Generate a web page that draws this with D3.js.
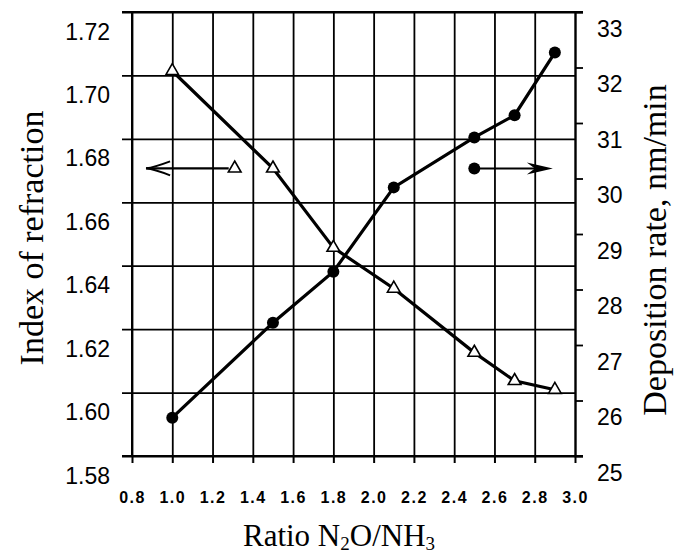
<!DOCTYPE html>
<html><head><meta charset="utf-8">
<script src="https://cdn.jsdelivr.net/npm/d3@7"></script>
<style>
html,body{margin:0;padding:0;background:#fff;}
svg{display:block;}
</style></head>
<body>
<svg id="chart" width="678" height="556"></svg>
<script>
// ---- data ----
const ratio = [1.0, 1.5, 1.8, 2.1, 2.5, 2.7, 2.9];
const refractiveIndex = [1.7014, 1.6707, 1.6457, 1.6328, 1.6126, 1.6037, 1.6009];
const depositionRate = [25.69, 27.40, 28.32, 29.84, 30.74, 31.14, 32.27];
const xTicks = [0.8, 1.0, 1.2, 1.4, 1.6, 1.8, 2.0, 2.2, 2.4, 2.6, 2.8, 3.0];
const leftTicks = [1.58, 1.60, 1.62, 1.64, 1.66, 1.68, 1.70, 1.72];
const rightTicks = [25, 26, 27, 28, 29, 30, 31, 32, 33];
// legend arrows: [marker x, arrow tip x, y value]
const indexArrow = [1.31, 0.87, 1.6707];
const rateArrow = [2.50, 2.89, 30.18];

const svg = d3.select("#chart");
const x = d3.scaleLinear().domain([0.8, 3.0]).range([132, 575]);
const yL = d3.scaleLinear().domain([1.58, 1.72]).range([456, 12]);
const yR = d3.scaleLinear().domain([25, 33]).range([456, 12]);

// vertical grid + x ticks
const gx = svg.append("g").attr("transform", "translate(0,456)")
  .call(d3.axisBottom(x).tickValues(xTicks).tickSize(7).tickFormat(d3.format(".1f")));
gx.select(".domain").remove();
gx.selectAll("line").attr("stroke", "#000").attr("stroke-width", 2);
gx.selectAll("text").attr("font-family", "Liberation Sans, Arial, sans-serif")
  .attr("font-size", 16).attr("font-weight", "bold").attr("letter-spacing", "1.5px")
  .attr("fill", "#000").attr("y", 0).attr("dy", 0).attr("transform", "translate(0,47)");

const gv = svg.append("g").attr("transform", "translate(0,456)")
  .call(d3.axisBottom(x).tickValues(xTicks).tickSize(-444).tickFormat(""));
gv.select(".domain").remove();
gv.selectAll("line").attr("stroke", "#000").attr("stroke-width", 1.8);

// horizontal grid (left ticks) extending outwards
const gl = svg.append("g").attr("transform", "translate(575,0)")
  .call(d3.axisLeft(yL).tickValues(leftTicks).tickSize(453).tickFormat(d3.format(".2f")));
gl.select(".domain").remove();
gl.selectAll("line").attr("stroke", "#000").attr("stroke-width", 1.8);
gl.selectAll("text").attr("font-family", "Liberation Sans, Arial, sans-serif")
  .attr("font-size", 23).attr("fill", "#000")
  .attr("x", -465).attr("dy", 0).attr("y", 27);

// right axis
const gr = svg.append("g").attr("transform", "translate(575,0)")
  .call(d3.axisRight(yR).tickValues(rightTicks).tickSize(8).tickFormat(d3.format("d")));
gr.select(".domain").attr("stroke", "#000").attr("stroke-width", 2);
gr.selectAll("line").attr("stroke", "#000").attr("stroke-width", 1.8);
gr.selectAll("text").attr("font-family", "Liberation Sans, Arial, sans-serif")
  .attr("font-size", 23).attr("fill", "#000")
  .attr("x", 22).attr("dy", 0).attr("y", 24);

// borders top/bottom extended to right tick length
svg.append("line").attr("x1", 122).attr("x2", 583).attr("y1", yL(1.72)).attr("y2", yL(1.72))
  .attr("stroke", "#000").attr("stroke-width", 2);
svg.append("line").attr("x1", 122).attr("x2", 583).attr("y1", yL(1.58)).attr("y2", yL(1.58))
  .attr("stroke", "#000").attr("stroke-width", 2);
svg.append("line").attr("x1", x(0.8)).attr("x2", x(0.8)).attr("y1", 12).attr("y2", 456)
  .attr("stroke", "#000").attr("stroke-width", 2);

// data lines
const idx = ratio.map((r, i) => [r, refractiveIndex[i]]);
const dep = ratio.map((r, i) => [r, depositionRate[i]]);
svg.append("path").datum(idx)
  .attr("d", d3.line().x(d => x(d[0])).y(d => yL(d[1])))
  .attr("fill", "none").attr("stroke", "#000").attr("stroke-width", 3.2);
svg.append("path").datum(dep)
  .attr("d", d3.line().x(d => x(d[0])).y(d => yR(d[1])))
  .attr("fill", "none").attr("stroke", "#000").attr("stroke-width", 3.2);

const tri = d3.symbol().type(d3.symbolTriangle).size(70);
svg.selectAll(".tri").data(idx).join("path")
  .attr("transform", d => `translate(${x(d[0])},${yL(d[1])})`)
  .attr("d", tri).attr("fill", "#fff").attr("stroke", "#000").attr("stroke-width", 1.6);
svg.selectAll(".dot").data(dep).join("circle")
  .attr("cx", d => x(d[0])).attr("cy", d => yR(d[1])).attr("r", 6).attr("fill", "#000");

// legend arrows
const ly = yL(indexArrow[2]);
const lx0 = x(indexArrow[0]), lx1 = x(indexArrow[1]);
svg.append("line").attr("x1", lx0 - 6).attr("x2", lx1).attr("y1", ly).attr("y2", ly)
  .attr("stroke", "#000").attr("stroke-width", 2.2);
svg.append("path").attr("d", `M${lx1 + 24},${ly - 7} Q${lx1 + 8},${ly - 1} ${lx1},${ly} Q${lx1 + 8},${ly + 1} ${lx1 + 24},${ly + 7}`)
  .attr("fill", "none").attr("stroke", "#000").attr("stroke-width", 2);
svg.append("path").attr("transform", `translate(${lx0},${ly})`).attr("d", tri)
  .attr("fill", "#fff").attr("stroke", "#000").attr("stroke-width", 1.6);

const ry = yR(rateArrow[2]);
const rx0 = x(rateArrow[0]), rx1 = x(rateArrow[1]);
svg.append("line").attr("x1", rx0).attr("x2", rx1 - 10).attr("y1", ry).attr("y2", ry)
  .attr("stroke", "#000").attr("stroke-width", 2.2);
svg.append("path").attr("d", `M${rx1},${ry} L${rx1 - 26},${ry - 6} L${rx1 - 18},${ry} L${rx1 - 26},${ry + 6} Z`)
  .attr("fill", "#000");
svg.append("circle").attr("cx", rx0).attr("cy", ry).attr("r", 6).attr("fill", "#000");

// axis titles
const serif = "Liberation Serif, Times New Roman, serif";
svg.append("text").attr("transform", "translate(43,238) rotate(-90)")
  .attr("text-anchor", "middle").attr("font-family", serif).attr("font-size", 34)
  .text("Index of refraction");
svg.append("text").attr("transform", "translate(666,250) rotate(-90)")
  .attr("text-anchor", "middle").attr("font-family", serif).attr("font-size", 34)
  .text("Deposition rate, nm/min");
const xt = svg.append("text").attr("transform", "translate(339,546)")
  .attr("text-anchor", "middle").attr("font-family", serif).attr("font-size", 31);
xt.append("tspan").text("Ratio N");
xt.append("tspan").attr("font-size", 19).attr("dy", 4).text("2");
xt.append("tspan").attr("dy", -4).text("O/NH");
xt.append("tspan").attr("font-size", 19).attr("dy", 4).text("3");
</script>
</body></html>
